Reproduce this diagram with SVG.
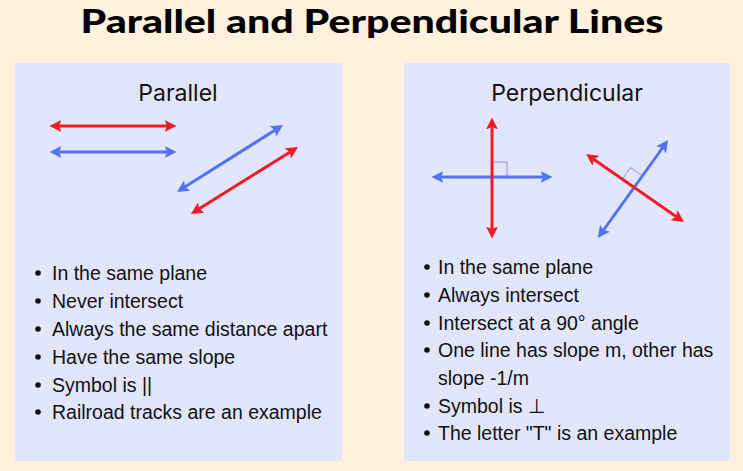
<svg xmlns="http://www.w3.org/2000/svg" width="743" height="471" viewBox="0 0 743 471">
<defs>
<marker id="ar" viewBox="0 0 10 10" refX="7" refY="5" markerWidth="4" markerHeight="4" orient="auto-start-reverse" markerUnits="strokeWidth"><path d="M0,0 L10,5 L0,10 L2,5 Z" fill="#f01c24"/></marker>
<marker id="ab" viewBox="0 0 10 10" refX="7" refY="5" markerWidth="4" markerHeight="4" orient="auto-start-reverse" markerUnits="strokeWidth"><path d="M0,0 L10,5 L0,10 L2,5 Z" fill="#5174f5"/></marker>
<style>
.panel{fill:#e2e6fc}
.r{stroke:#f01c24;stroke-width:3;fill:none;marker-start:url(#ar);marker-end:url(#ar)}
.b{stroke:#5174f5;stroke-width:3;fill:none;marker-start:url(#ab);marker-end:url(#ab)}
.sq{stroke:#9a8cf0;stroke-width:1;fill:none}
.h{font-family:Inter,"Liberation Sans",sans-serif;font-size:23px;fill:#111;text-anchor:middle}
.t{font-family:"Liberation Sans",Arial,sans-serif;font-size:19.5px;fill:#111}
</style>
</defs>
<rect width="743" height="471" fill="#fff1dc"/>
<text x="372" y="33" text-anchor="middle" font-family="Lato,'Liberation Sans',Arial,sans-serif" font-weight="900" font-size="33" fill="#000" textLength="583" lengthAdjust="spacingAndGlyphs">Parallel and Perpendicular Lines</text>
<g id="parallel">
<rect class="panel" x="15" y="63" width="327" height="398"/>
<text class="h" x="178" y="101">Parallel</text>
<g class="t">
<circle cx="38" cy="273" r="2.8"/><text x="52" y="280">In the same plane</text>
<circle cx="38" cy="301" r="2.8"/><text x="52" y="308">Never intersect</text>
<circle cx="38" cy="329" r="2.8"/><text x="52" y="336">Always the same distance apart</text>
<circle cx="38" cy="357" r="2.8"/><text x="52" y="364">Have the same slope</text>
<circle cx="38" cy="385" r="2.8"/><text x="52" y="392">Symbol is ||</text>
<circle cx="38" cy="412" r="2.8"/><text x="52" y="419">Railroad tracks are an example</text>
</g>
</g>
<g id="perpendicular">
<rect class="panel" x="404" y="63" width="326" height="398"/>
<text class="h" x="567" y="101">Perpendicular</text>
<g class="t">
<circle cx="427" cy="267" r="2.8"/><text x="438" y="274">In the same plane</text>
<circle cx="427" cy="295" r="2.8"/><text x="438" y="302">Always intersect</text>
<circle cx="427" cy="323" r="2.8"/><text x="438" y="330">Intersect at a 90° angle</text>
<circle cx="427" cy="350" r="2.8"/><text x="438" y="357">One line has slope m, other has</text>
<text x="438" y="385">slope -1/m</text>
<circle cx="427" cy="406" r="2.8"/><text x="438" y="413">Symbol is ⊥</text>
<circle cx="427" cy="433" r="2.8"/><text x="438" y="440">The letter "T" is an example</text>
</g>
</g>
<g id="connectors">
<line class="r" x1="53" y1="126" x2="173" y2="126"/>
<line class="b" x1="53" y1="152" x2="173" y2="152"/>
<line class="b" x1="180" y1="190" x2="280" y2="127"/>
<line class="r" x1="194" y1="212" x2="295" y2="149"/>
<path class="sq" d="M492,162 H507 V177"/>
<line class="b" x1="435" y1="177" x2="549" y2="177"/>
<line class="r" x1="492" y1="121" x2="492" y2="235"/>
<path class="sq" d="M622.5,179 L630.6,167.6 L642.1,175.6"/>
<line class="b" x1="600" y1="235" x2="666" y2="143"/>
<line class="r" x1="589" y1="156" x2="681" y2="220"/>
</g>
</svg>
